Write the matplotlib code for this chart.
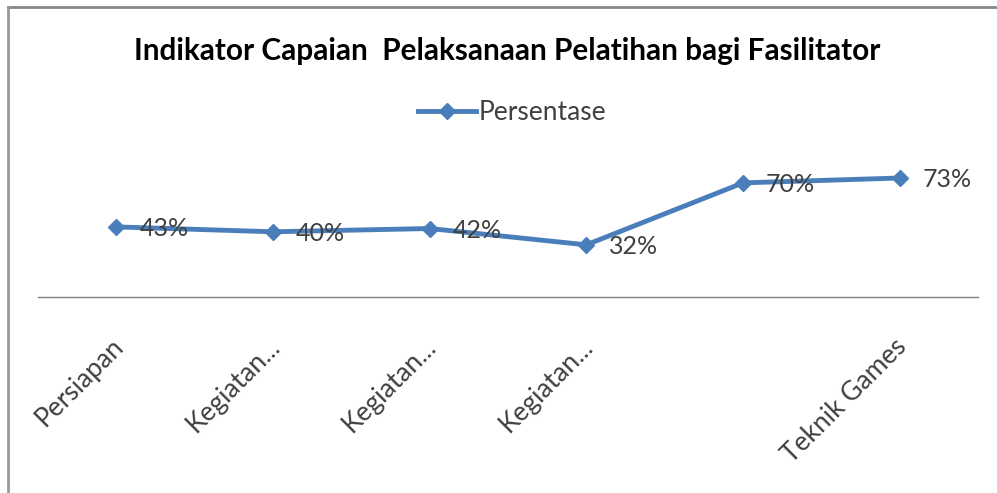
import matplotlib.pyplot as plt
from matplotlib.lines import Line2D
from matplotlib.transforms import offset_copy

plt.rcParams['font.family'] = ['Lato', 'DejaVu Sans']

categories = ["Persiapan", "Kegiatan...", "Kegiatan...", "Kegiatan...", "", "Teknik Games"]
persentase = [0.43, 0.40, 0.42, 0.32, 0.70, 0.73]
label_txt = ["43%", "40%", "42%", "32%", "70%", "73%"]

blue = "#4A7EBB"
txt_col = "#404040"

fig = plt.figure(figsize=(9.97, 4.93), dpi=100)
ax = fig.add_axes([0.0381, 0.3976, 0.9428, 0.2645])

x = list(range(len(categories)))
ax.plot(x, persentase, color=blue, lw=3.5, marker='D', markersize=8.5,
        label="Persentase")

for xi, yi, t in zip(x, persentase, label_txt):
    ax.annotate(t, (xi, yi), xytext=(23, -2), textcoords='offset pixels',
                ha='left', va='center', fontsize=18, color=txt_col)

ax.set_xlim(-0.5, len(categories) - 0.5)
ax.set_ylim(0, 0.8)
ax.set_yticks([])
ax.set_xticks(x)
ax.set_xticklabels(categories, rotation=45, ha='right', va='top',
                   rotation_mode='anchor', fontsize=19, color=txt_col)
ax.tick_params(axis='x', length=0, pad=0)
for lab in ax.get_xticklabels():
    lab.set_transform(offset_copy(lab.get_transform(), fig=fig, x=-6, y=-37, units='dots'))

for s in ['top', 'right', 'left']:
    ax.spines[s].set_visible(False)
ax.spines['bottom'].set_color('#808080')
ax.spines['bottom'].set_linewidth(1)

fig.text(0.509, 0.897, "Indikator Capaian  Pelaksanaan Pelatihan bagi Fasilitator",
         ha='center', va='center', fontsize=21.4, fontweight='bold', color='black')

fig.legend(handles=[Line2D([], [], color=blue, lw=3.5, marker='D', markersize=8.5)],
           labels=["Persentase"], loc='center', bbox_to_anchor=(0.514, 0.771),
           frameon=False, fontsize=19, handlelength=2.2, handletextpad=0.1,
           labelcolor=txt_col)

# frame of the pasted chart (top and left edges only)
fig.add_artist(Line2D([0.008, 1.0], [0.986, 0.986], color='#888888', lw=2))
fig.add_artist(Line2D([0.008, 0.008], [0.0, 0.986], color='#999999', lw=2))

fig.savefig("out.png", dpi=100)
